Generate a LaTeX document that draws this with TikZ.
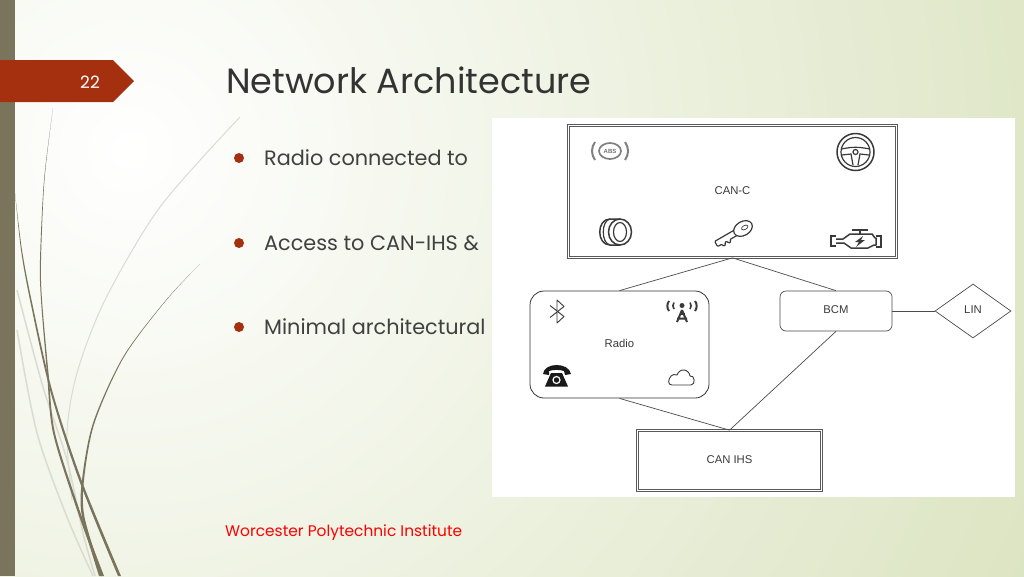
\documentclass[tikz,border=0pt]{standalone}
\usepackage{fontspec}
\setmainfont{Poppins}
\newfontfamily\labelfont{Liberation Sans}
\usetikzlibrary{shapes.geometric}
\definecolor{slidered}{HTML}{A5300F}
\definecolor{grassdark}{HTML}{7A745C}
\definecolor{grasslight}{HTML}{DADBD1}
\definecolor{bggreen}{HTML}{DAE3BF}
\definecolor{textgrey}{HTML}{404040}
\definecolor{icongrey}{HTML}{3A3A3A}
\tikzset{
	bullettext/.style={anchor=west,inner sep=0pt,text=textgrey,font=\fontsize{20.8}{24}\selectfont},
	boxlabel/.style={text=icongrey,text depth=2pt,font=\labelfont\fontsize{11.3}{13}\selectfont},
	netline/.style={draw=black!70,line width=.7pt},
	icon/.style={icongrey,line width=1.2pt}
}
\begin{document}
\begin{tikzpicture}[x=1pt,y=-1pt]
	\useasboundingbox (0,0) rectangle (1024,576);
	% background
	\begin{scope}
	\clip (0,0) rectangle (1024,576);
	\fill[bggreen] (0,0) rectangle (1024,576);
	\shade[inner color=white,outer color=bggreen] (130,150) circle (1050);
	\end{scope}
	\fill[grassdark] (0,0) rectangle (15,576);
	% grass
	\draw[grasslight,line width=1pt] plot[smooth] coordinates {(240,117) (160,207) (105,300) (77,373) (67,433) (72,500)};
	\draw[grasslight,line width=1.5pt] plot[smooth] coordinates {(17,290) (43,387) (67,460) (83,533) (95,576)};
	\draw[grasslight,line width=1.5pt] plot[smooth] coordinates {(17,330) (37,433) (67,517) (93,576)};
	\fill[grassdark] plot[smooth] coordinates {(53,108) (44,180) (40,260) (41,300) (47,373) (53,433) (77,510) (101,576)} -- plot[smooth] coordinates {(104,576) (79.5,510) (55,433) (48.5,373) (42,300) (41,260) (44.5,180) (53,108)} -- cycle;
	\fill[grassdark] plot[smooth] coordinates {(15,193) (21,250) (30,300) (50,390) (79,480) (118,576)} -- plot[smooth] coordinates {(121,576) (81.5,480) (52,390) (31.5,300) (22,250) (15,193)} -- cycle;
	\fill[grassdark] plot[smooth] coordinates {(200,264) (166,300) (123,357) (93,423) (82,480) (82,517) (99,576)} -- plot[smooth] coordinates {(102,576) (84.5,517) (84,480) (94.5,423) (124,357) (166.5,300) (200,264)} -- cycle;
	% slide number tab
	\fill[slidered] (0,60) -- (113,60) -- (134,81) -- (113,102) -- (0,102) -- cycle;
	\node[text=white,font=\fontsize{17}{20}\selectfont] (num) at (90,82) {22};
	% title and bullets
	\node[anchor=west,inner sep=0pt,text=textgrey!80!black,font=\fontsize{35}{40}\selectfont] (title) at (226,80) {Network Architecture};
	\foreach \y/\t in {158/Radio connected to,243/Access to CAN-IHS \&,327/Minimal architectural}{
		\fill[slidered] (239,\y) circle (5);
		\node[bullettext] at (264,\y) {\t};
	}
	\node[anchor=west,inner sep=0pt,text=red,font=\fontsize{15.4}{19}\selectfont] (wpi) at (225,532.5) {Worcester Polytechnic Institute};
	% panel
	\fill[white] (492,118) rectangle (1015,497);
	% boxes
	\node[draw=black!65,double=white,double distance=.8pt,line width=.7pt,minimum width=328pt,minimum height=132pt,inner sep=0pt,boxlabel] (canc) at (732.5,191.5) {CAN-C};
	\node[draw=black!80,line width=.8pt,rounded corners=14pt,minimum width=179pt,minimum height=107pt,inner sep=0pt,boxlabel] (radio) at (619.5,344.5) {Radio};
	\node[draw=black!70,line width=.7pt,rounded corners=6pt,minimum width=112pt,minimum height=40pt,inner sep=0pt,boxlabel] (bcm) at (836,311) {BCM};
	\node[draw=black!70,line width=.7pt,diamond,aspect=1.4,minimum width=76pt,minimum height=54pt,inner sep=0pt,boxlabel] (lin) at (973,311) {LIN};
	\node[draw=black!65,double=white,double distance=.8pt,line width=.7pt,minimum width=184pt,minimum height=60pt,inner sep=0pt,boxlabel] (canihs) at (729.5,460.5) {CAN IHS};
	% connections
	\draw[netline] (canc.south) -- (radio.north);
	\draw[netline] (canc.south) -- (bcm.north);
	\draw[netline] (bcm.east) -- (lin.west);
	\draw[netline] (radio.south) -- (canihs.north);
	\draw[netline] (bcm.south) -- (canihs.north);
	% abs
	\draw[black!50,line width=1.7pt] (610,151) circle (11 and 8);
	\node[text=black!55,font=\labelfont\bfseries\fontsize{6}{6}\selectfont,inner sep=0pt] (abs) at (610,151) {ABS};
	\draw[black!50,line width=2pt] (595,142) to[bend right=35] (595,160);
	\draw[black!50,line width=2pt] (625,142) to[bend left=35] (625,160);
	% wheel
	\draw[icon,line width=1.5pt] (855.5,152) circle (18.5);
	\draw[icon] (855.5,152) circle (14.5);
	\draw[icon] (841.5,149) to[bend left=12] (869.5,149);
	\draw[icon] (842,155) -- (851,154) -- (853,165);
	\draw[icon] (869,155) -- (860,154) -- (858,165);
	\draw[icon] (855.5,152) circle (2.5);
	% tyre
	\draw[icon,line width=1.5pt] (620,232) ellipse (11.5 and 13);
	\draw[icon] (620,232) ellipse (6.5 and 9.5);
	\draw[icon,line width=1.5pt] (620,219) -- (610,219) to[out=180,in=180,looseness=1.35] (610,245) -- (620,245);
	\draw[icon] (610,219) to[out=190,in=170,looseness=.9] (610,245);
	% key
	\begin{scope}[shift={(743,228.5)},rotate=30]
	\draw[icon,rounded corners=1pt] (-6,-3) -- (-31,-3) -- (-31,3) -- (-26,3) -- (-26,5.5) -- (-23,5.5) -- (-23,3) -- (-20,3) -- (-20,5.5) -- (-17,5.5) -- (-17,3) -- (-6,3);
	\draw[icon,fill=white] (0,0) ellipse (10 and 7);
	\draw[icon,line width=.7pt] (2,0) ellipse (3.5 and 2);
	\end{scope}
	% engine
	\draw[icon,line width=1.5pt,line join=round] (836,239) -- (843,239) -- (850,234) -- (872,234) -- (875,238) -- (876,238) -- (876,245) -- (874,245) -- (868,248) -- (851,248) -- (844,243) -- (836,243);
	\draw[icon,line width=1.5pt] (836,236) -- (831,236) -- (831,246) -- (836,246);
	\draw[icon,line width=1.5pt] (876,236) -- (881,236) -- (881,247) -- (876,247);
	\draw[icon,line width=1.5pt] (852,230) -- (868,230) (860,230) -- (860,234);
	\fill[icongrey] (863,236) -- (855,242) -- (859,242) -- (856,247) -- (865,240) -- (861,240) -- cycle;
	% bluetooth
	\draw[icon,line width=.9pt,line join=round] (550,305.5) -- (564,316.5) -- (557,323) -- (557,300) -- (564,306.5) -- (550,317.5);
	% antenna
	\fill[icongrey] (682,305.5) circle (2.5);
	\draw[icongrey,line width=2pt] (682,310) -- (677,322) (682,310) -- (687,322) (677,318.5) -- (687,318.5);
	\draw[icongrey,line width=1.2pt] (679.5,314) -- (684.5,314);
	\draw[icon,line width=2pt] (669,301) to[bend right=35] (669,311);
	\draw[icon,line width=1.6pt] (674,302.5) to[bend right=35] (674,309);
	\draw[icon,line width=2pt] (695,301) to[bend left=35] (695,311);
	\draw[icon,line width=1.6pt] (690,302.5) to[bend left=35] (690,309);
	% phone
	\fill[black!90] (543,374) .. controls (544,362) and (569,362) .. (571,374) -- (565,375) -- (564,371) .. controls (560,369.5) and (553,369.5) .. (549,371) -- (549,375) -- cycle;
	\fill[black!90] (551,373) -- (562,373) -- (568,386.5) -- (545,386.5) -- cycle;
	\draw[white,line width=1.2pt] (556.5,380) circle (3.5);
	% cloud
	\draw[icon,line width=.9pt,line join=round] (672,385) to[out=180,in=230,looseness=1.3] (671,376) to[out=60,in=170] (677,375) to[out=70,in=175] (684,370) to[out=-5,in=100] (690,376) to[out=20,in=0,looseness=1.4] (691,385) -- cycle;
\end{tikzpicture}
\end{document}
